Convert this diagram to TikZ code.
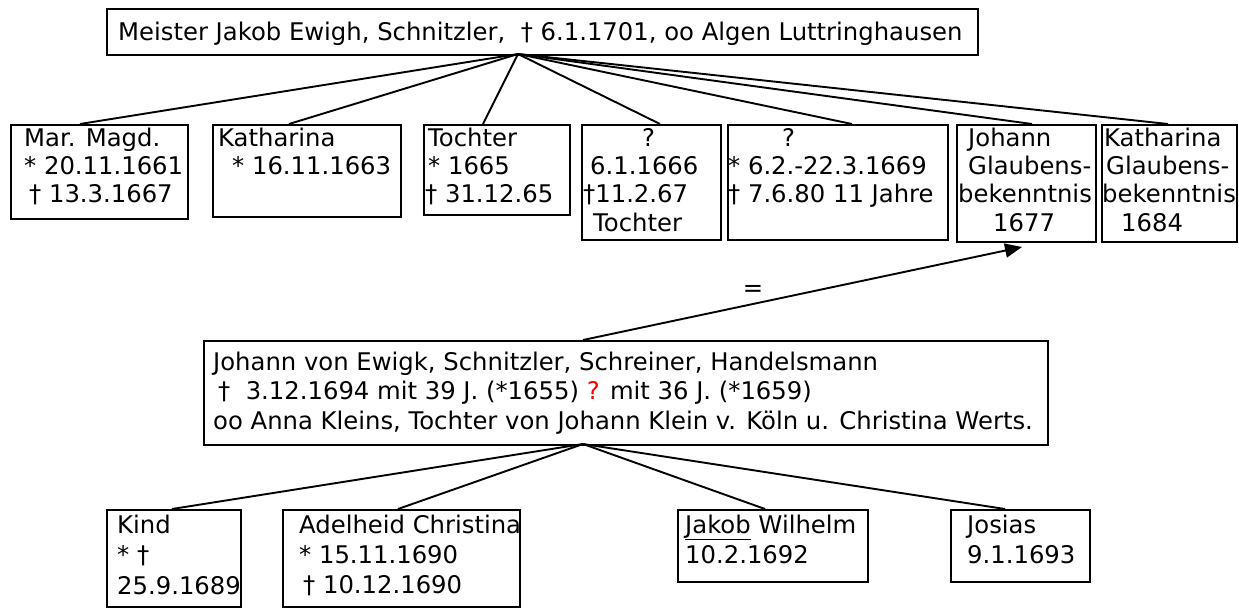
\documentclass[tikz,border=0pt]{standalone}
\usepackage{fontspec}
\setmainfont{DejaVu Sans}
\usetikzlibrary{arrows.meta}
\tikzset{
  box/.style={draw, line width=1.9pt, inner sep=0pt, anchor=north west},
  txt/.style={anchor=base west, inner sep=0pt, font=\fontsize{24.3}{29}\selectfont},
  link/.style={line width=1.9pt},
}
\begin{document}
\begin{tikzpicture}[x=1pt,y=-1pt]
\useasboundingbox (0,0) rectangle (1239,608);
% boxes
\node[box, minimum width=871pt, minimum height=46pt] (top) at (106,8) {};
\node[box, minimum width=177pt, minimum height=94pt] (b1) at (10,124) {};
\node[box, minimum width=188pt, minimum height=92pt] (b2) at (212,124) {};
\node[box, minimum width=146pt, minimum height=90pt] (b3) at (423,124) {};
\node[box, minimum width=139pt, minimum height=115pt] (b4) at (581,124) {};
\node[box, minimum width=220pt, minimum height=115pt] (b5) at (727,124) {};
\node[box, minimum width=139pt, minimum height=117pt] (b6) at (956,124) {};
\node[box, minimum width=135pt, minimum height=117pt] (b7) at (1101,124) {};
\node[box, minimum width=844pt, minimum height=104pt] (mid) at (203,340) {};
\node[box, minimum width=134pt, minimum height=97pt] (k1) at (106,509) {};
\node[box, minimum width=237pt, minimum height=97pt] (k2) at (282,509) {};
\node[box, minimum width=190pt, minimum height=72pt] (k3) at (677,509) {};
\node[box, minimum width=139pt, minimum height=72pt] (k4) at (950,509) {};
% texts
\node[txt] (tt) at (118,40) {Meister Jakob Ewigh, Schnitzler, \ † 6.1.1701, oo Algen Luttringhausen};
\node[txt] (t1a) at (24,146) {Mar. Magd.};
\node[txt] (t1b) at (24,174) {* 20.11.1661};
\node[txt] (t1c) at (29,202) {† 13.3.1667};
\node[txt] (t2a) at (218,146) {Katharina};
\node[txt] (t2b) at (232,174) {* 16.11.1663};
\node[txt] (t3a) at (428,146) {Tochter};
\node[txt] (t3b) at (428,174) {* 1665};
\node[txt] (t3c) at (425,202) {† 31.12.65};
\node[txt] (t4a) at (642,146) {?};
\node[txt] (t4b) at (590,174) {6.1.1666};
\node[txt] (t4c) at (583,202) {†11.2.67};
\node[txt] (t4d) at (593,231) {Tochter};
\node[txt] (t5a) at (782,146) {?};
\node[txt] (t5b) at (728,174) {* 6.2.-22.3.1669};
\node[txt] (t5c) at (728,202) {† 7.6.80 11 Jahre};
\node[txt] (t6a) at (968,146) {Johann};
\node[txt] (t6b) at (968,174) {Glaubens-};
\node[txt] (t6c) at (958,202) {bekenntnis};
\node[txt] (t6d) at (993,231) {1677};
\node[txt] (t7a) at (1104,146) {Katharina};
\node[txt] (t7b) at (1106,174) {Glaubens-};
\node[txt] (t7c) at (1102,202) {bekenntnis};
\node[txt] (t7d) at (1121,231) {1684};
\node[txt] (tma) at (213,370) {Johann von Ewigk, Schnitzler, Schreiner, Handelsmann};
\node[txt] (tmb) at (218,399) {† \ 3.12.1694 mit 39 J. (*1655) {\color{red}?} mit 36 J. (*1659)};
\node[txt] (tmc) at (213,429) {oo Anna Kleins, Tochter von Johann Klein v. Köln u. Christina Werts.};
\node[txt] (tk1a) at (117,533) {Kind};
\node[txt] (tk1b) at (117,563) {* †};
\node[txt] (tk1c) at (117,594) {25.9.1689};
\node[txt] (tk2a) at (299,533) {Adelheid Christina};
\node[txt] (tk2b) at (299,563) {* 15.11.1690};
\node[txt] (tk2c) at (303,593) {† 10.12.1690};
\node[txt] (tk3a) at (685,533) {\underline{Jakob} Wilhelm};
\node[txt] (tk3b) at (685,563) {10.2.1692};
\node[txt] (tk4a) at (967,533) {Josias};
\node[txt] (tk4b) at (967,563) {9.1.1693};
% connection points
\coordinate (tp) at (518,54);
\coordinate (c1) at (80,124);
\coordinate (c2) at (289,124);
\coordinate (c3) at (483,124);
\coordinate (c4) at (660,124);
\coordinate (c5) at (852,124);
\coordinate (c6) at (1032,124);
\coordinate (c7) at (1168,124);
\coordinate (mt) at (583,340);
\coordinate (mb) at (583,444);
\coordinate (d1) at (172,509);
\coordinate (d2) at (398,509);
\coordinate (d3) at (765,509);
\coordinate (d4) at (1005,509);
\coordinate (ah) at (1022,247);
% connectors
\foreach \c in {c1,c2,c3,c4,c5,c6,c7} \draw[link] (tp) -- (\c);
\foreach \d in {d1,d2,d3,d4} \draw[link] (mb) -- (\d);
\draw[link, -{Triangle[length=17pt,width=14pt]}] (mt) -- (ah);
\node[txt, anchor=center] (eq) at (753,291) {=};
\end{tikzpicture}
\end{document}
